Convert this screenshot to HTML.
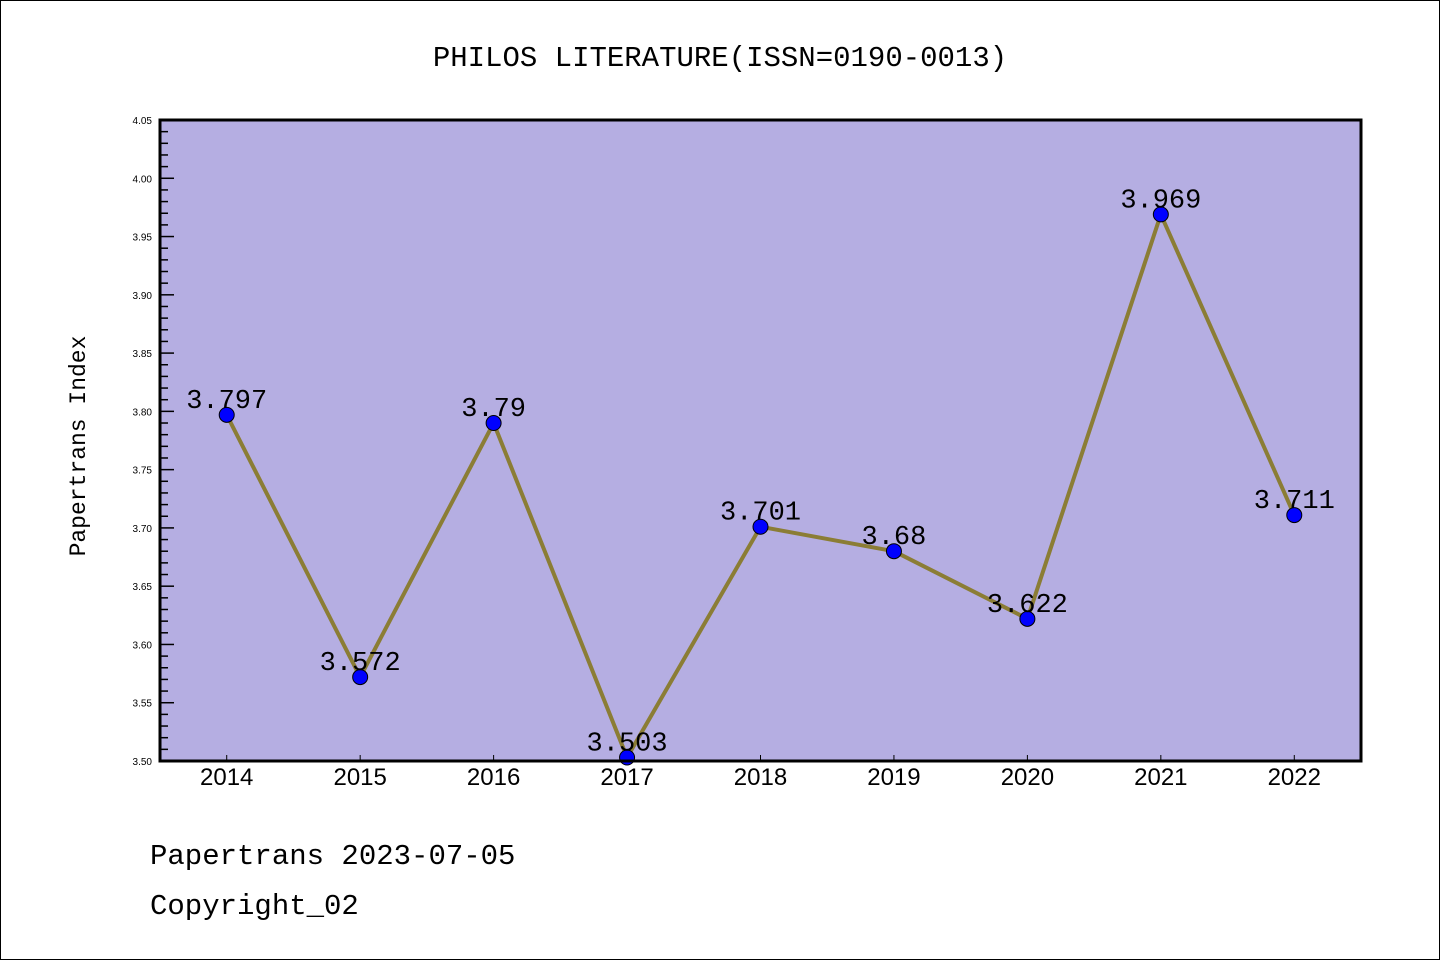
<!DOCTYPE html>
<html><head><meta charset="utf-8"><style>
body{margin:0;background:#fff;}
svg{display:block;font-family:"Liberation Sans","Noto Sans CJK SC",sans-serif;}
</style></head><body>
<svg id="c" width="1440" height="960">
<rect x="0.5" y="0.5" width="1439" height="959" fill="#fff" stroke="#000"/>
<text x="720" y="66" text-anchor="middle" font-size="29" font-family="'Liberation Mono','Noto Sans CJK SC',monospace">PHILOS LITERATURE(ISSN=0190-0013)</text>
<rect x="160" y="120" width="1201" height="641" fill="#b5aee2"/>
<g id="ticks"></g>
<g id="series"></g>
<rect x="160" y="120" width="1201" height="641" fill="none" stroke="#000" stroke-width="3"/>
<text transform="translate(85,446) rotate(-90)" text-anchor="middle" font-size="23" font-family="'Liberation Mono',monospace">Papertrans Index</text>
<text x="150" y="864" font-size="29" font-family="'Liberation Mono',monospace">Papertrans 2023-07-05</text>
<text x="150" y="914" font-size="29" font-family="'Liberation Mono',monospace">Copyright_02</text>
</svg>
<script>
const years = ["2014","2015","2016","2017","2018","2019","2020","2021","2022"];
const values = [3.797,3.572,3.79,3.503,3.701,3.68,3.622,3.969,3.711];
const valueLabels = ["3.797","3.572","3.79","3.503","3.701","3.68","3.622","3.969","3.711"];
const yTicks = ["3.50","3.55","3.60","3.65","3.70","3.75","3.80","3.85","3.90","3.95","4.00","4.05"];
const NS="http://www.w3.org/2000/svg";
const L=160,R=1361,T=120,B=761,ymin=3.5,ymax=4.05;
const xs=i=>L+(R-L)/years.length*(i+0.5);
const ys=v=>B-(v-ymin)/(ymax-ymin)*(B-T);
function mk(tag,a,p){const e=document.createElementNS(NS,tag);for(const k in a)e.setAttribute(k,a[k]);p.appendChild(e);return e;}
const tg=document.getElementById('ticks'),sg=document.getElementById('series');
yTicks.forEach((t,i)=>{const y=ys(parseFloat(t));
 const l=mk('line',{x1:L,x2:L+14,y1:y,y2:y,stroke:'#000','stroke-width':1.5},tg);
 
 
 const tx=mk('text',{x:L-8,y:y+4,'text-anchor':'end','font-size':10},tg);tx.textContent=t;
 
 
 if(i<yTicks.length-1){for(let k=1;k<5;k++){const ym=ys(parseFloat(t)+0.01*k);
  const m=mk('line',{x1:L,x2:L+8,y1:ym,y2:ym,stroke:'#000','stroke-width':1.5},tg);
  
  }}
});
years.forEach((yr,i)=>{const x=xs(i);
 const l=mk('line',{x1:x,x2:x,y1:B,y2:B-6,stroke:'#000','stroke-width':1},tg);
 
 
 const tx=mk('text',{x:x,y:B+24,'text-anchor':'middle','font-size':24},tg);tx.textContent=yr;
 
 
});
const pl=mk('polyline',{points:values.map((v,i)=>xs(i)+','+ys(v)).join(' '),fill:'none',stroke:'#8b7d35','stroke-width':4,'stroke-linejoin':'round'},sg);


values.forEach((v,i)=>{
 const c=mk('circle',{cx:xs(i),cy:ys(v),r:7.5,fill:'#0000ff',stroke:'#000','stroke-width':1},sg);
 
 
});
values.forEach((v,i)=>{
 const t=mk('text',{x:xs(i),y:ys(v)-7,'text-anchor':'middle','font-size':27,'font-family':"'Liberation Mono',monospace"},sg);t.textContent=valueLabels[i];
 
 
});
</script>
</body></html>
